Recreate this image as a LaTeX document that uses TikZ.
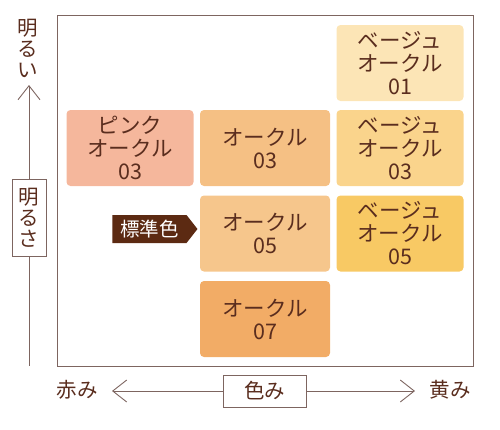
\documentclass[tikz,border=0pt]{standalone}
\usepackage{fontspec}
\setmainfont{Noto Sans CJK JP}
\usetikzlibrary{arrows.meta, shapes.symbols}

\definecolor{inkbrown}{HTML}{5A2D1E}
\definecolor{framegray}{HTML}{7D6560}
\definecolor{tagbrown}{HTML}{5C2A12}
\definecolor{pinkoc}{HTML}{F5B79C}
\definecolor{ocre3}{HTML}{F5C084}
\definecolor{ocre5}{HTML}{F6C68C}
\definecolor{ocre7}{HTML}{F2AC66}
\definecolor{beige1}{HTML}{FCE5B6}
\definecolor{beige3}{HTML}{FAD48C}
\definecolor{beige5}{HTML}{F8C964}

\begin{document}
\begin{tikzpicture}[x=1pt, y=-1pt,
    shade/.style={rounded corners=4pt, minimum width=127pt, minimum height=76pt,
      align=center, text=inkbrown, inner sep=1pt, font=\fontsize{21.5}{23}\selectfont},
    axislabel/.style={text=inkbrown, font=\fontsize{20.5}{21}\selectfont, inner sep=1pt},
    axisbox/.style={draw=framegray, line width=0.9pt, fill=white, text=inkbrown,
      align=center, font=\fontsize{20.5}{21}\selectfont},
    axisline/.style={draw=framegray, line width=0.9pt},
    axisarrow/.style={axisline, -{Straight Barb[length=14pt, width=22pt, line width=0.9pt]}}]
  \useasboundingbox (0,0) rectangle (500,429);

  % frame
  \draw[framegray, line width=1pt] (57,15) rectangle (473,366);

  % shades
  \node[shade, fill=beige1] (b01) at (400,63) {ベージュ\\オークル\\01};
  \node[shade, fill=pinkoc] (p03) at (130,148) {ピンク\\オークル\\03};
  \node[shade, fill=ocre3, minimum width=130pt] (o03) at (265,148) {オークル\\03};
  \node[shade, fill=beige3] (b03) at (400,148) {ベージュ\\オークル\\03};
  \node[shade, fill=ocre5, minimum width=130pt] (o05) at (265,233.5) {オークル\\05};
  \node[shade, fill=beige5] (b05) at (400,233.5) {ベージュ\\オークル\\05};
  \node[shade, fill=ocre7, minimum width=130pt] (o07) at (265,319) {オークル\\07};

  % standard tag
  \node[signal, signal to=east, signal pointer angle=104, fill=tagbrown, text=white,
    minimum width=85pt, minimum height=28pt, inner sep=1pt,
    font=\fontsize{19.5}{19.5}\selectfont] (std) at (149.5,229) {標準色};

  % brightness axis
  \node[axislabel, align=center] (bright) at (28,48) {明\\る\\い};
  \node[axisbox, minimum width=34pt, minimum height=77pt, inner sep=2pt] (lum) at (29,217.5) {明\\る\\さ};
  \coordinate (lumtip) at (29,85);
  \coordinate (lumend) at (29,366);
  \draw[axisarrow] (lum.north) -- (lumtip);
  \draw[axisline] (lum.south) -- (lumend);

  % hue axis
  \node[axislabel] (red) at (77,390) {赤み};
  \node[axislabel] (yellow) at (450,390) {黄み};
  \node[axisbox, minimum width=83pt, minimum height=32pt, inner sep=2pt] (hue) at (264.5,391) {色み};
  \coordinate (redtip) at (112,391);
  \coordinate (yellowtip) at (415,391);
  \draw[axisarrow] (hue.west) -- (redtip);
  \draw[axisarrow] (hue.east) -- (yellowtip);
\end{tikzpicture}
\end{document}
